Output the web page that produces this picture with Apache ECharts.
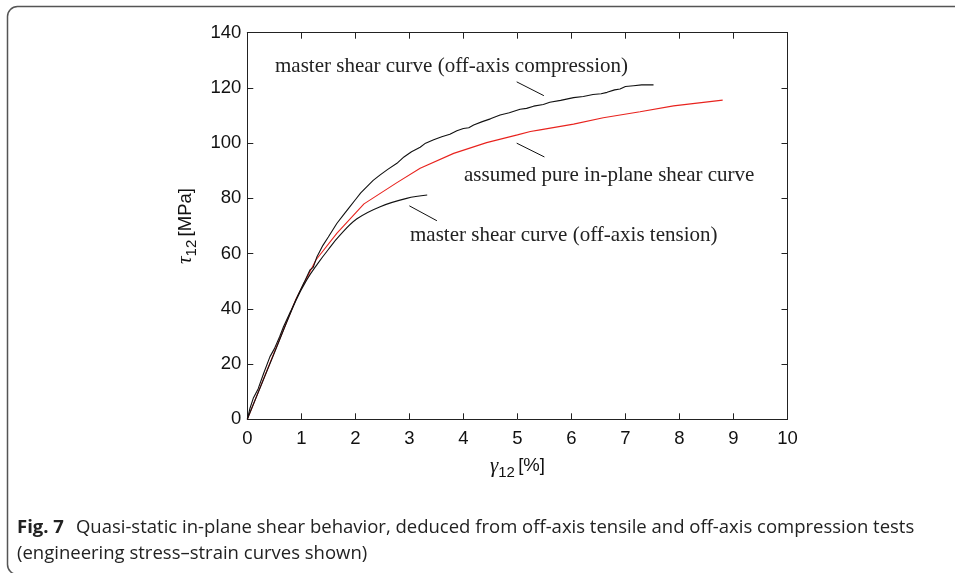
<!DOCTYPE html>
<html><head><meta charset="utf-8">
<script src="https://cdn.jsdelivr.net/npm/echarts@6/dist/echarts.min.js"></script>
<style>html,body{margin:0;padding:0;background:#fff}#c{width:955px;height:573px}</style>
</head><body><div id="c"></div>
<script>
// ---- data ----
const compressionX = [0,0.05,0.11,0.2,0.3,0.42,0.5,0.6,0.67,0.8,0.94,1.05,1.16,1.22,1.29,1.4,1.5,1.66,1.78,1.9,2.0,2.1,2.21,2.33,2.46,2.6,2.77,2.9,3.04,3.2,3.3,3.45,3.6,3.75,3.88,4.0,4.1,4.19,4.35,4.5,4.68,4.85,5.05,5.17,5.3,5.48,5.6,5.8,6.04,6.22,6.4,6.55,6.66,6.8,6.9,7.0,7.15,7.3,7.52];
const compressionY = [0,4,7.6,11,16.5,22.7,25.5,30,33.5,39,45,49.5,54.1,55,58.9,63,66,71,74,77,79.5,82,84.2,86.5,88.5,90.5,92.7,95,96.9,98.5,100,101.2,102.3,103.2,104.5,105.3,105.6,106.6,107.8,108.8,110.2,111,112.3,112.6,113.4,114.0,114.8,115.5,116.5,116.9,117.6,117.9,118.4,119.3,119.6,120.5,120.8,121.1,121.1];
const inPlaneX = [0,0.5,0.9,1.27,1.66,2.16,2.77,3.2,3.82,4.43,5.0,5.24,5.42,6.04,6.59,7.27,7.89,8.8];
const inPlaneY = [0,24.3,43.5,57.7,67.4,78,85.7,90.9,96.3,100.2,103,104.2,104.8,106.9,109.2,111.4,113.5,115.6];
const tensionX = [0,0.5,0.9,1.1,1.3,1.5,1.7,2.03,2.46,2.95,3.33];
const tensionY = [0,24,43,50.5,56.3,61.5,66.3,72.6,77,80,81.2];
const xTicks = {min:0, max:10, interval:1};
const yTicks = {min:0, max:140, interval:20};
const labelCompression = 'master shear curve (off-axis compression)';
const labelInPlane = 'assumed pure in-plane shear curve';
const labelTension = 'master shear curve (off-axis tension)';
const captionBold = 'Fig. 7';
const captionLine1 = 'Quasi-static in-plane shear behavior, deduced from off-axis tensile and off-axis compression tests';
const captionLine2 = '(engineering stress\u2013strain curves shown)';

// ---- annotation placement (data coordinates) ----
const annotations = [
  {text: labelCompression, at:[0.513,127.6], lead:[[4.987,122.2],[5.49,117.2]]},
  {text: labelInPlane, at:[4.011,88.2], lead:[[4.987,100.0],[5.50,95.0]]},
  {text: labelTension, at:[3.012,66.4], lead:[[3.0,77.3],[3.51,71.9]]}
];

const zip = (xs, ys) => xs.map((x,i)=>[x, ys[i]]);
const chart = echarts.init(document.getElementById('c'), null, {renderer:'canvas'});

const axisCommon = {
  axisLine:{show:true, onZero:false, lineStyle:{color:'#222', width:1}},
  axisTick:{show:true, inside:true, length:6, lineStyle:{color:'#222', width:1}},
  splitLine:{show:false}
};
const sans = 'Liberation Sans';
const tickFont = {fontFamily:sans, fontSize:18.5, color:'#111'};
const serif = 'Liberation Serif';
const capFont = 'Open Sans';

const option = {
  animation:false,
  backgroundColor:'#fff',
  grid:{left:247.3, top:32.7, right:167.5, bottom:153.7, containLabel:false, outerBoundsMode:'none'},
  xAxis:[
    Object.assign({type:'value', position:'bottom', min:xTicks.min, max:xTicks.max, interval:xTicks.interval,
      axisLabel:Object.assign({margin:10}, tickFont),
      name:'{t|\u03b3}{s|12} {n|[%]}', nameLocation:'middle', nameGap:33,
      nameTextStyle:{rich:{
        t:{fontFamily:serif, fontStyle:'italic', fontSize:21, color:'#111'},
        s:{fontFamily:sans, fontSize:15, color:'#111', padding:[13,0,0,0]},
        n:{fontFamily:sans, fontSize:18.5, color:'#111'}
      }}
    }, axisCommon),
    Object.assign({type:'value', position:'top', min:xTicks.min, max:xTicks.max, interval:xTicks.interval,
      axisLabel:{show:false}}, axisCommon)
  ],
  yAxis:[
    Object.assign({type:'value', position:'left', min:yTicks.min, max:yTicks.max, interval:yTicks.interval,
      axisLabel:Object.assign({margin:6}, tickFont),
      name:'{t|\u03c4}{s|12} {n|[MPa]}', nameLocation:'middle', nameGap:46, nameRotate:90,
      nameTextStyle:{rich:{
        t:{fontFamily:serif, fontStyle:'italic', fontSize:21, color:'#111'},
        s:{fontFamily:sans, fontSize:15, color:'#111', padding:[13,0,0,0]},
        n:{fontFamily:sans, fontSize:18.5, color:'#111'}
      }}
    }, axisCommon),
    Object.assign({type:'value', position:'right', min:yTicks.min, max:yTicks.max, interval:yTicks.interval,
      axisLabel:{show:false}}, axisCommon)
  ],
  series:[
    {type:'line', name:'compression', data:zip(compressionX, compressionY), showSymbol:false, symbol:'none',
      lineStyle:{color:'#111', width:1.1}, z:3,
      markLine:{silent:true, symbol:'none', label:{show:false}, lineStyle:{color:'#111', width:1, type:'solid'},
        data: annotations.map(a=>[{coord:a.lead[0]},{coord:a.lead[1]}])},
      markPoint:{silent:true, symbol:'circle', symbolSize:0,
        data: annotations.map(a=>({coord:a.at, value:a.text, label:{show:true, position:'right', distance:0,
          formatter:a.text, fontFamily:serif, fontSize:21, color:'#222'}}))}
    },
    {type:'line', name:'inplane', data:zip(inPlaneX, inPlaneY), showSymbol:false, symbol:'none',
      lineStyle:{color:'#e8231e', width:1.1}, z:2},
    {type:'line', name:'tension', data:zip(tensionX, tensionY), showSymbol:false, symbol:'none', smooth:0.4,
      lineStyle:{color:'#111', width:1.1}, z:2}
  ],
  graphic:[
    {type:'rect', z:-1, shape:{x:7.5, y:6.5, width:1000, height:568, r:10}, style:{fill:'none', stroke:'#555', lineWidth:1.5}, silent:true},
    {type:'text', left:17, top:518, style:{text:'{b|'+captionBold+'}{r|'+captionLine1+'}', rich:{
      b:{fontFamily:capFont, fontWeight:'bold', fontSize:18.5, fill:'#222', padding:[0,12,0,0]},
      r:{fontFamily:capFont, fontSize:18.5, fill:'#222'}}}},
    {type:'text', left:17, top:544, style:{text:captionLine2, fontFamily:capFont, fontSize:18.5, fill:'#222'}}
  ]
};
chart.setOption(option);
</script>
</body></html>
